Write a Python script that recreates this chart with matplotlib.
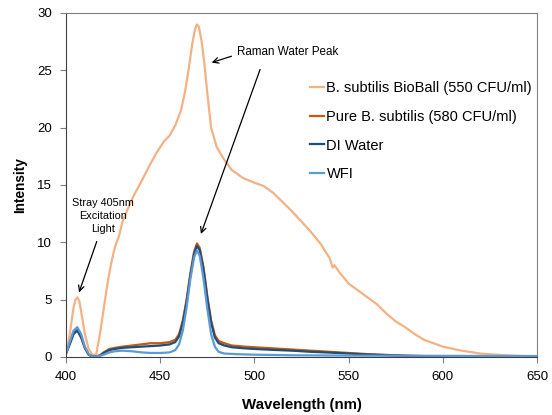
import numpy as np
import matplotlib
matplotlib.use('Agg')
import matplotlib.pyplot as plt

plt.rcParams['font.family'] = ['Liberation Sans', 'DejaVu Sans']

# BioBall spectrum (light orange)
wl_bioball = [400, 402, 404, 405, 406, 407, 408, 410, 412, 414, 416, 418, 420, 422, 424, 426, 428,
              430, 433, 436, 440, 444, 448, 452, 455, 458, 461, 463, 465, 467, 468.5, 469.5, 470.5,
              472, 473.5, 475, 477, 480, 484, 488, 494, 500, 505, 510, 515, 520, 525, 530, 535,
              540, 541.5, 542.5, 545, 550, 555, 560, 565, 570, 575, 580, 585, 590, 595, 600, 610,
              620, 630, 640, 650]
int_bioball = [0.3, 2.0, 4.3, 5.0, 5.2, 4.9, 4.0, 2.0, 0.7, 0.2, 0.2, 2.0, 4.2, 6.4, 8.2, 9.6, 10.5,
               11.8, 13.0, 14.1, 15.3, 16.6, 17.8, 18.8, 19.3, 20.2, 21.5, 23.0, 25.0, 27.3, 28.6,
               29.0, 28.8, 27.5, 25.5, 23.0, 20.0, 18.3, 17.2, 16.3, 15.6, 15.2, 14.9, 14.3, 13.5,
               12.7, 11.8, 10.9, 9.9, 8.6, 7.8, 8.0, 7.4, 6.4, 5.8, 5.2, 4.6, 3.8, 3.1, 2.6, 2.0,
               1.5, 1.2, 0.9, 0.55, 0.3, 0.18, 0.1, 0.05]

# Pure B. subtilis (dark orange)
wl_pure = [400, 402, 404, 406, 408, 410, 412, 414, 416, 418, 420, 423, 426, 430, 435, 440, 445, 450,
           455, 458, 460, 462, 464, 466, 468, 469.5, 471, 473, 475, 477, 479, 481, 484, 488, 495,
           500, 510, 520, 530, 540, 550, 560, 570, 580, 590, 600, 620, 650]
int_pure = [0.3, 1.2, 2.1, 2.4, 1.8, 0.8, 0.2, 0.05, 0.05, 0.15, 0.4, 0.7, 0.8, 0.9, 1.0, 1.1, 1.2,
            1.2, 1.3, 1.5, 2.0, 3.2, 5.0, 7.3, 9.2, 9.9, 9.5, 7.8, 5.3, 3.2, 1.9, 1.4, 1.2, 1.0,
            0.9, 0.85, 0.75, 0.65, 0.55, 0.45, 0.35, 0.25, 0.18, 0.12, 0.08, 0.05, 0.03, 0.02]

# DI water (navy)
wl_di = [400, 402, 404, 406, 408, 410, 412, 414, 416, 418, 420, 423, 426, 430, 435, 440, 445, 450,
         455, 458, 460, 462, 464, 466, 468, 469.5, 471, 473, 475, 477, 479, 481, 484, 488, 495,
         500, 510, 520, 530, 540, 550, 560, 570, 580, 590, 600, 620, 650]
int_di = [0.3, 1.1, 2.0, 2.3, 1.7, 0.8, 0.2, 0.05, 0.05, 0.12, 0.35, 0.6, 0.7, 0.8, 0.85, 0.9, 0.95,
          1.0, 1.1, 1.3, 1.8, 3.0, 4.8, 7.1, 9.0, 9.7, 9.3, 7.6, 5.1, 3.0, 1.7, 1.2, 1.0, 0.85,
          0.75, 0.7, 0.62, 0.55, 0.45, 0.38, 0.3, 0.22, 0.16, 0.1, 0.07, 0.05, 0.03, 0.02]

# WFI (light blue)
wl_wfi = [400, 402, 404, 406, 408, 410, 412, 414, 416, 418, 420, 423, 426, 430, 435, 440, 445, 450,
          455, 458, 460, 462, 464, 466, 468, 469.5, 471, 473, 475, 477, 479, 481, 484, 490, 500,
          520, 550, 600, 650]
int_wfi = [0.3, 1.3, 2.3, 2.6, 2.0, 0.9, 0.25, 0.05, 0.05, 0.1, 0.2, 0.4, 0.5, 0.55, 0.5, 0.4, 0.35,
           0.35, 0.4, 0.6, 1.1, 2.3, 4.3, 6.8, 8.7, 9.3, 8.8, 6.8, 4.2, 2.0, 0.9, 0.45, 0.3, 0.25,
           0.2, 0.15, 0.12, 0.1, 0.08]

fig = plt.figure(figsize=(5.52, 4.15), dpi=100)
ax = fig.add_axes([0.1196, 0.1398, 0.8533, 0.829])

ax.plot(wl_bioball, int_bioball, color='#F4B183', lw=1.6, label='B. subtilis BioBall (550 CFU/ml)')
ax.plot(wl_pure, int_pure, color='#C55A11', lw=1.6, label='Pure B. subtilis (580 CFU/ml)')
ax.plot(wl_di, int_di, color='#1F4E79', lw=1.6, label='DI Water')
ax.plot(wl_wfi, int_wfi, color='#5B9BD5', lw=1.6, label='WFI')

ax.set_xlim(400, 650)
ax.set_ylim(0, 30)
ax.set_xticks([400, 450, 500, 550, 600, 650])
ax.set_yticks([0, 5, 10, 15, 20, 25, 30])
ax.tick_params(labelsize=9.5, length=4, color='#808080', pad=6)
for s in ['left', 'bottom']:
    ax.spines[s].set_color('#404040')
for s in ['top', 'right']:
    ax.spines[s].set_color('#808080')

ax.set_xlabel('Wavelength (nm)', fontsize=10.8, fontweight='bold', labelpad=11)
ax.set_ylabel('Intensity', fontsize=9.8, fontweight='bold', labelpad=7)

arrow = dict(arrowstyle='->', color='black', lw=0.9)
ax.annotate('', xy=(475.9, 25.6), xytext=(489.2, 26.3), arrowprops=arrow)
ax.annotate('', xy=(471.1, 10.5), xytext=(503.5, 25.3), arrowprops=arrow)
ax.text(490.5, 26.6, 'Raman Water Peak', fontsize=8.4, va='center', ha='left')
ax.text(419.5, 12.3, 'Stray 405nm\nExcitation\nLight', fontsize=7.8, ha='center', va='center',
        linespacing=1.35)
ax.annotate('', xy=(406.4, 5.4), xytext=(416.8, 10.3), arrowprops=arrow)

ax.legend(loc='upper left', bbox_to_anchor=(0.505, 0.818), frameon=False, fontsize=10.5,
          handlelength=0.95, handletextpad=0.2, labelspacing=1.0, borderaxespad=0)

fig.savefig('out.png', dpi=100)
